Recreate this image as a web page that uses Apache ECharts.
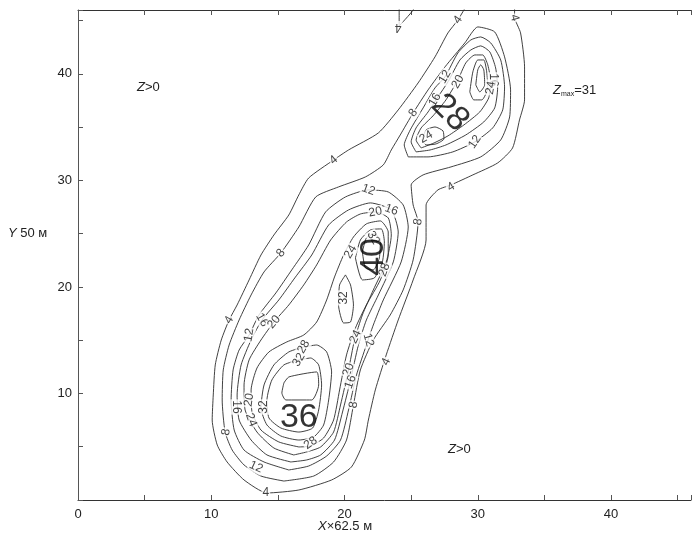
<!DOCTYPE html>
<html><head><meta charset="utf-8">
<script src="https://cdn.jsdelivr.net/npm/echarts/dist/echarts.min.js"></script>
<style>html,body{margin:0;padding:0;background:#fff}#c{width:694px;height:539px}</style>
</head><body><div id="c"></div>
<script>
// ---- axis extents / ticks ----
const axisMax = 46;
const tickStep = 5;
const labelStep = 10;

// ---- contour lines (data units: X, Y) ----
const level4Outer = [[29.40,46.95],[28.51,45.07],[27.76,43.85],[26.79,41.60],[25.52,39.15],[24.03,36.62],[22.54,34.46],[20.30,32.86],[19.18,31.92],[17.31,30.23],[16.57,28.64],[15.82,26.76],[14.70,24.88],[13.73,23.00],[12.84,20.66],[11.94,18.31],[11.34,16.90],[10.75,15.02],[10.30,12.68],[10.15,9.86],[10.07,7.51],[10.45,5.16],[11.19,3.57],[12.46,1.88],[14.18,0.66],[16.57,0.94],[19.03,1.88],[20.52,3.10],[21.49,5.63],[21.79,7.51],[22.31,10.33],[23.13,13.62],[24.03,16.90],[25.15,20.66],[26.12,24.41],[26.12,27.70],[27.01,29.11],[27.99,29.58],[29.63,30.52],[31.49,31.64],[32.61,33.05],[33.13,35.68],[33.51,37.56],[33.51,40.66],[33.21,43.85],[32.76,45.35],[32.76,46.95]];
const level4Top = [[24.10,46.95],[24.10,44.50],[25.15,46.00],[25.40,46.95]];
const level8 = [[15.45,1.78],[13.73,2.25],[12.46,3.29],[11.57,4.69],[11.04,6.38],[10.82,9.39],[10.90,12.21],[11.34,14.55],[12.09,16.90],[12.99,19.25],[13.96,21.41],[15.22,23.19],[16.57,25.63],[17.84,28.45],[19.55,29.39],[21.57,30.33],[22.91,31.46],[23.51,32.86],[24.18,34.27],[25.15,36.34],[26.27,38.50],[27.54,40.66],[29.03,42.91],[30.00,44.41],[31.27,43.94],[32.01,41.60],[32.46,38.50],[32.39,35.96],[31.72,33.80],[30.22,32.21],[27.99,31.27],[25.90,30.52],[25.00,29.58],[25.15,27.70],[25.52,26.10],[25.15,22.54],[24.40,19.72],[23.43,17.37],[22.16,15.02],[21.19,12.21],[20.67,8.92],[20.15,5.63],[19.18,3.57],[17.69,2.25]];
const level12Upper = [[24.78,32.21],[24.48,33.33],[24.93,34.74],[25.90,36.81],[26.79,38.69],[27.54,39.72],[28.51,41.97],[29.48,43.19],[30.22,43.47],[30.97,42.91],[31.72,41.31],[32.01,38.78],[31.87,36.62],[31.12,34.93],[29.78,33.62],[28.13,32.68],[26.27,32.21]];
const level16Upper = [[25.37,32.68],[25.00,33.62],[25.37,34.93],[26.27,36.43],[27.01,37.84],[27.76,39.25],[28.66,41.31],[29.48,42.25],[30.22,42.63],[30.90,42.07],[31.34,40.56],[31.49,38.69],[31.27,36.81],[30.45,35.49],[29.10,34.27],[27.61,33.33],[26.42,32.86]];
const level20Upper = [[25.75,33.05],[25.37,33.80],[25.75,34.93],[26.64,36.06],[27.61,37.56],[28.51,39.44],[29.10,41.03],[29.78,41.78],[30.37,41.78],[30.75,40.85],[30.97,39.25],[30.82,37.75],[30.15,36.43],[28.96,35.21],[27.76,34.18],[26.72,33.52]];
const level24Upper = [[25.82,33.80],[26.12,34.74],[26.79,35.02],[27.39,34.65],[27.46,33.90],[26.87,33.43],[26.12,33.33]];
const level24Ridge = [[29.40,38.31],[29.63,40.19],[30.00,41.31],[30.45,41.31],[30.67,40.19],[30.75,38.69],[30.30,37.56],[29.70,37.56]];
const level28Ridge = [[29.85,38.97],[30.00,40.38],[30.22,40.85],[30.45,40.38],[30.52,38.97],[30.15,38.31]];
const level12Main = [[15.82,2.82],[13.96,3.57],[12.46,4.69],[11.72,6.57],[11.49,9.39],[11.64,12.21],[12.09,14.08],[12.84,15.49],[13.58,17.37],[14.85,19.44],[16.04,21.60],[17.31,23.94],[18.58,27.04],[20.07,28.45],[21.79,29.11],[23.28,28.92],[24.40,27.70],[24.78,25.63],[24.25,22.35],[22.91,18.78],[22.16,16.43],[21.64,14.55],[20.90,11.74],[20.30,8.45],[19.70,5.63],[18.66,4.13],[17.31,3.19]];
const level16Main = [[15.97,3.57],[14.18,4.23],[12.99,5.63],[12.09,7.51],[11.94,9.86],[12.24,12.68],[12.99,15.02],[13.81,16.90],[15.07,18.78],[16.27,20.85],[17.54,23.00],[18.81,25.82],[20.30,27.23],[21.94,27.89],[23.51,27.23],[24.03,25.16],[23.66,22.35],[22.54,19.25],[21.64,16.90],[21.04,14.55],[20.45,11.27],[19.85,8.26],[19.25,5.63],[18.21,4.23],[17.16,3.76]];
const level20Main = [[16.19,4.23],[14.70,4.88],[13.43,6.38],[12.54,8.45],[12.46,10.80],[12.84,13.15],[13.73,15.02],[14.70,16.71],[15.82,18.31],[16.94,20.19],[17.91,22.07],[18.96,24.41],[20.15,26.10],[21.19,26.85],[22.31,27.04],[23.28,26.48],[23.51,24.88],[23.13,22.35],[22.16,19.72],[21.34,17.37],[20.75,15.02],[20.30,12.21],[19.70,8.92],[19.18,6.38],[18.21,4.98],[17.16,4.51]];
const level24Main = [[16.57,4.98],[15.07,5.45],[13.73,6.57],[13.06,8.26],[12.99,10.33],[13.43,12.39],[14.33,13.90],[15.67,14.84],[16.94,15.49],[17.91,16.71],[18.66,18.78],[19.25,20.94],[19.93,23.00],[20.67,24.69],[21.64,25.92],[22.69,26.20],[23.28,25.16],[23.28,23.00],[22.69,20.66],[21.64,18.31],[20.82,16.15],[20.15,13.62],[19.63,10.33],[19.18,7.51],[18.43,5.82],[17.46,5.07]];
const level28Lower = [[16.94,14.37],[15.82,13.90],[14.70,12.68],[13.96,10.80],[13.73,8.64],[14.18,7.04],[15.22,6.01],[16.57,5.63],[17.69,5.92],[18.43,7.04],[18.81,9.39],[19.03,12.02],[18.66,13.90],[17.91,14.55]];
const level28Middle = [[20.82,22.72],[21.19,24.41],[21.94,25.35],[22.76,25.45],[22.99,24.23],[22.84,22.35],[22.24,20.85],[21.34,20.66]];
const level32Lower = [[16.57,13.15],[15.45,12.68],[14.55,11.27],[14.18,9.39],[14.33,7.70],[15.22,6.76],[16.57,6.38],[17.61,6.76],[18.06,8.45],[18.28,10.80],[18.06,12.68],[17.46,13.33]];
const level32Middle = [[21.34,23.29],[21.64,24.60],[22.24,24.98],[22.69,24.41],[22.61,22.72],[22.16,21.60],[21.57,21.78]];
const level32Saddle = [[20.07,21.13],[20.45,20.19],[20.67,18.31],[20.45,16.71],[19.93,16.62],[19.55,18.31],[19.63,20.19]];
const level36Lower = [[15.45,10.99],[15.82,11.55],[17.91,12.02],[18.06,10.80],[17.54,9.39],[15.60,9.39],[15.30,10.05]];

const contourSet = [
  {pts: level4Outer, closed: false}, {pts: level4Top, closed: false},
  {pts: level8, closed: true},
  {pts: level12Upper, closed: true}, {pts: level16Upper, closed: true},
  {pts: level20Upper, closed: true}, {pts: level24Upper, closed: true},
  {pts: level24Ridge, closed: true}, {pts: level28Ridge, closed: true},
  {pts: level12Main, closed: true}, {pts: level16Main, closed: true},
  {pts: level20Main, closed: true}, {pts: level24Main, closed: true},
  {pts: level28Lower, closed: true}, {pts: level28Middle, closed: true},
  {pts: level32Lower, closed: true}, {pts: level32Middle, closed: true},
  {pts: level32Saddle, closed: true}, {pts: level36Lower, closed: true}
];

// ---- contour labels ----
const contourLabelText = ['4','4','4','8','12','20','16','24','12','16','24','4','4','8','12','20','16','32','24','28','8','32','4','12','16','20','8','16','20','24','32','12','4','28','28','32','20','16','24','12','8','4'];
const contourLabelPos = [[24.03,44.41],[28.51,45.07],[32.76,45.26],[25.15,36.34],[27.54,39.72],[28.51,39.25],[26.79,37.56],[26.12,34.08],[29.78,33.62],[31.19,39.44],[30.97,38.69],[27.99,29.39],[19.18,31.92],[25.52,26.10],[21.79,29.11],[22.31,27.04],[23.51,27.23],[22.16,24.60],[20.45,23.29],[22.99,21.60],[15.22,23.19],[19.93,18.97],[11.34,16.90],[12.84,15.49],[13.81,16.90],[14.70,16.71],[11.12,6.38],[11.87,8.73],[12.84,9.39],[12.99,7.51],[13.96,8.73],[13.36,3.10],[14.10,0.66],[17.46,5.35],[16.94,14.37],[16.57,13.15],[20.30,12.21],[20.45,11.08],[20.82,15.31],[21.79,15.02],[20.67,8.92],[23.13,12.96]];
const contourLabelAngle = [180,55,-75,55,60,60,60,30,55,-90,80,30,40,80,-20,10,-20,-60,60,70,50,90,60,80,-60,50,80,-90,80,-70,90,-25,0,35,60,60,70,70,65,-75,80,65];

// ---- peak labels ----
const peakText = ['36','40','28'];
const peakPos = [[16.57,7.70],[22.16,22.82],[27.91,36.34]];
const peakAngle = [0,90,-45];

const chart = echarts.init(document.getElementById('c'), null, {renderer:'canvas'});
const FONT = 'Liberation Sans, Arial, sans-serif';

const lineSeries = contourSet.map(c => ({
  type: 'line',
  data: c.closed ? c.pts.concat([c.pts[0]]) : c.pts,
  showSymbol: false, symbol: 'none', smooth: 0.2, silent: true, clip: true,
  lineStyle: {color: '#2b2b2b', width: 0.9},
  z: 2
}));

const labelSeries = {
  type: 'scatter', symbolSize: 0, silent: true, z: 5,
  data: contourLabelPos.map((p, i) => ({
    value: p,
    label: {show: true, position: 'inside', formatter: contourLabelText[i], rotate: contourLabelAngle[i],
      fontSize: 12, color: '#111', fontFamily: FONT, backgroundColor: '#fff', padding: [0, 1]}
  }))
};

const peakSeries = {
  type: 'scatter', symbolSize: 0, silent: true, z: 6,
  data: peakPos.map((p, i) => ({
    value: p,
    label: {show: true, position: 'inside', formatter: peakText[i], rotate: peakAngle[i],
      fontSize: 34, color: '#000', fontFamily: FONT}
  }))
};

const tickLabelFmt = v => (v % labelStep === 0 ? String(v) : '');

chart.setOption({
  animation: false,
  backgroundColor: '#fff',
  grid: {left: 78, right: 0, top: 10, bottom: 39, containLabel: false},
  xAxis: [
    {type: 'value', min: 0, max: axisMax, interval: tickStep, position: 'bottom',
      axisLine: {lineStyle: {color: '#333', width: 1}},
      axisTick: {inside: true, length: 5, lineStyle: {color: '#555'}},
      axisLabel: {formatter: tickLabelFmt, color: '#222', fontSize: 13, fontFamily: FONT, margin: 8},
      splitLine: {show: false}},
    {type: 'value', min: 0, max: axisMax, interval: tickStep, position: 'top',
      axisLine: {show: true, lineStyle: {color: '#333', width: 1}},
      axisTick: {inside: true, length: 5, lineStyle: {color: '#555'}},
      axisLabel: {show: false}, splitLine: {show: false}}
  ],
  yAxis: {type: 'value', min: 0, max: axisMax, interval: tickStep,
    axisLine: {show: true, lineStyle: {color: '#555', width: 1}},
    axisTick: {show: true, inside: true, length: 5, lineStyle: {color: '#555'}},
    axisLabel: {formatter: v => (v !== 0 && v % labelStep === 0 ? String(v) : ''), color: '#222', fontSize: 13, fontFamily: FONT, margin: 6},
    splitLine: {show: false}},
  graphic: [
    {type: 'text', left: 8, top: 227, style: {text: '{i|Y} 50 м', fill: '#222', font: '13px ' + FONT,
      rich: {i: {fontStyle: 'italic', fontSize: 13, fontFamily: FONT, fill: '#222'}}}},
    {type: 'text', left: 318, top: 520, style: {text: '{i|X}×62.5 м', fill: '#222', font: '13px ' + FONT,
      rich: {i: {fontStyle: 'italic', fontSize: 13, fontFamily: FONT, fill: '#222'}}}},
    {type: 'text', left: 137, top: 81, style: {text: '{i|Z}>0', fill: '#222', font: '13px ' + FONT,
      rich: {i: {fontStyle: 'italic', fontSize: 13, fontFamily: FONT, fill: '#222'}}}},
    {type: 'text', left: 448, top: 443, style: {text: '{i|Z}>0', fill: '#222', font: '13px ' + FONT,
      rich: {i: {fontStyle: 'italic', fontSize: 13, fontFamily: FONT, fill: '#222'}}}},
    {type: 'text', left: 553, top: 84, style: {text: '{i|Z}{s|max}=31', fill: '#222', font: '13px ' + FONT,
      rich: {i: {fontStyle: 'italic', fontSize: 13, fontFamily: FONT, fill: '#222'},
             s: {fontSize: 7, fontFamily: FONT, fill: '#222', padding: [7, 0, 0, 0]}}}}
  ],
  series: lineSeries.concat([labelSeries, peakSeries])
});
</script>
</body></html>
